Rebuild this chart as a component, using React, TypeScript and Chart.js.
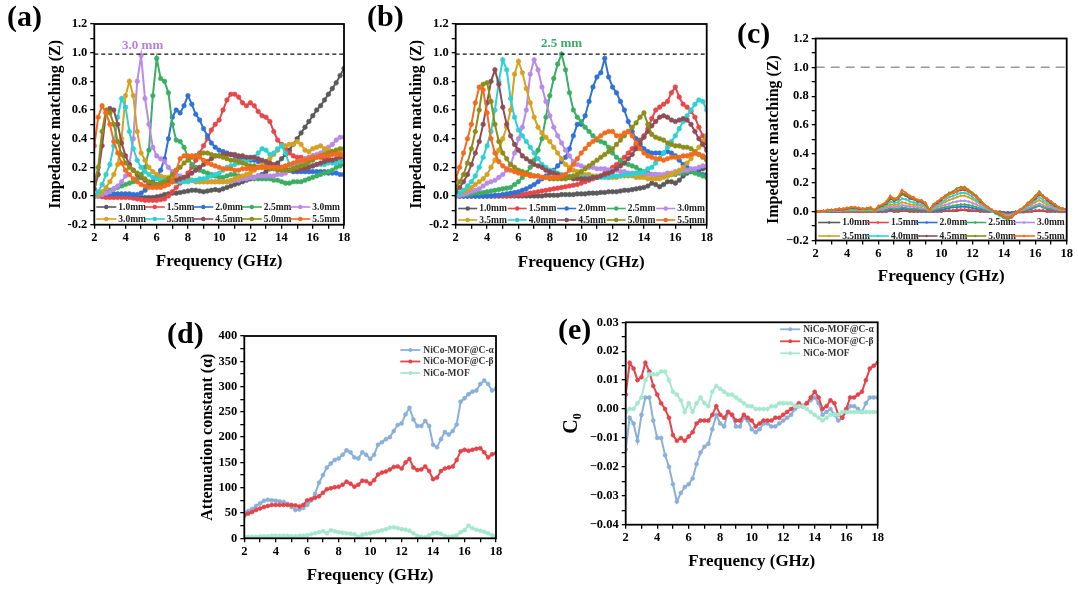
import React, { useEffect, useRef } from 'react';
import { Chart, registerables } from 'chart.js';

Chart.register(...registerables);

const FONT = '"Liberation Serif", "Times New Roman", Times, serif';
Chart.defaults.font.family = FONT;

// ---------- shared frequency grid (GHz) ----------
const FREQ = [
  2, 2.25, 2.5, 2.75, 3,
  3.25, 3.5, 3.75, 4,
  4.25, 4.5, 4.75, 5,
  5.25, 5.5, 5.75, 6,
  6.25, 6.5, 6.75, 7,
  7.25, 7.5, 7.75, 8,
  8.25, 8.5, 8.75, 9,
  9.25, 9.5, 9.75, 10,
  10.25, 10.5, 10.75, 11,
  11.25, 11.5, 11.75, 12,
  12.25, 12.5, 12.75, 13,
  13.25, 13.5, 13.75, 14,
  14.25, 14.5, 14.75, 15,
  15.25, 15.5, 15.75, 16,
  16.25, 16.5, 16.75, 17,
  17.25, 17.5, 17.75, 18,
];

// ---------- panel (a) ----------
const LEGEND_A = ['1.0mm', '1.5mm', '2.0mm', '2.5mm', '3.0mm', '3.0mm', '3.5mm', '4.5mm', '5.0mm', '5.5mm'];
const A_10 = [
  0, 0, 0, 0, 0,
  0, 0, 0, 0,
  -0.005, -0.01, -0.01, -0.01,
  -0.01, -0.01, -0.01, -0.005,
  0, 0.01, 0.015, 0.02,
  0.02, 0.025, 0.03, 0.035,
  0.04, 0.04, 0.035, 0.03,
  0.035, 0.04, 0.045, 0.04,
  0.05, 0.06, 0.07, 0.08,
  0.09, 0.1, 0.11, 0.12,
  0.13, 0.14, 0.15, 0.17,
  0.19, 0.21, 0.23, 0.26,
  0.29, 0.32, 0.36, 0.4,
  0.44, 0.48, 0.52, 0.56,
  0.6, 0.63, 0.67, 0.71,
  0.75, 0.79, 0.84, 0.89,
];
const A_15 = [
  0, 0, -0.005, -0.01, -0.01,
  -0.01, -0.01, -0.01, -0.01,
  -0.01, -0.015, -0.02, -0.025,
  -0.03, -0.03, -0.03, -0.03,
  -0.025, -0.02, 0.0, 0.03,
  0.06, 0.09, 0.12, 0.16,
  0.2, 0.25, 0.3, 0.35,
  0.4, 0.46, 0.5, 0.53,
  0.6, 0.67, 0.71, 0.71,
  0.69, 0.65, 0.63, 0.65,
  0.63, 0.59, 0.56, 0.55,
  0.52, 0.45, 0.39, 0.36,
  0.33, 0.3, 0.28, 0.27,
  0.27, 0.26, 0.27, 0.28,
  0.28, 0.27, 0.26, 0.26,
  0.25, 0.24, 0.23, 0.22,
];
const A_20 = [
  0, 0.005, 0.01, 0.015, 0.015,
  0.015, 0.015, 0.015, 0.015,
  0.015, 0.01, 0.01, 0.02,
  0.04, 0.07, 0.1, 0.13,
  0.18, 0.26, 0.4, 0.55,
  0.6, 0.58, 0.63, 0.7,
  0.64, 0.57, 0.53, 0.47,
  0.42, 0.37, 0.34, 0.32,
  0.31, 0.3, 0.29, 0.28,
  0.27, 0.26, 0.26, 0.25,
  0.25, 0.24, 0.24, 0.23,
  0.22, 0.21, 0.2, 0.19,
  0.18, 0.18, 0.17, 0.17,
  0.17, 0.17, 0.17, 0.17,
  0.17, 0.17, 0.17, 0.16,
  0.16, 0.16, 0.15, 0.15,
];
const A_25 = [
  0, 0.01, 0.02, 0.03, 0.04,
  0.05, 0.06, 0.07, 0.08,
  0.09, 0.1, 0.12, 0.15,
  0.2, 0.32, 0.7, 0.96,
  0.82, 0.8, 0.72, 0.5,
  0.39, 0.38, 0.34, 0.27,
  0.22, 0.2, 0.18, 0.17,
  0.16, 0.15, 0.14, 0.13,
  0.13, 0.14, 0.15, 0.15,
  0.14, 0.13, 0.13, 0.13,
  0.12, 0.12, 0.12, 0.12,
  0.12, 0.11, 0.11, 0.1,
  0.09, 0.09, 0.1, 0.1,
  0.1, 0.11, 0.12, 0.13,
  0.14, 0.15, 0.16, 0.17,
  0.18, 0.2, 0.21, 0.23,
];
const A_30 = [
  0, 0, 0.01, 0.02, 0.03,
  0.05, 0.07, 0.1, 0.14,
  0.22, 0.4, 0.8, 0.98,
  0.68, 0.5, 0.34, 0.28,
  0.26, 0.24, 0.2, 0.17,
  0.15, 0.14, 0.13, 0.12,
  0.11, 0.1, 0.1, 0.1,
  0.1, 0.1, 0.1, 0.1,
  0.1, 0.1, 0.1, 0.11,
  0.11, 0.12, 0.12, 0.13,
  0.13, 0.14, 0.14, 0.14,
  0.14, 0.14, 0.15, 0.15,
  0.16, 0.18, 0.2, 0.22,
  0.24, 0.26, 0.27, 0.28,
  0.29, 0.3, 0.32, 0.34,
  0.36, 0.39, 0.41, 0.41,
];
const A_30B = [
  0, 0.01, 0.03, 0.06, 0.1,
  0.15, 0.22, 0.4, 0.7,
  0.8, 0.7, 0.45, 0.3,
  0.25, 0.2, 0.17, 0.15,
  0.14, 0.13, 0.13, 0.12,
  0.12, 0.12, 0.11, 0.11,
  0.11, 0.1, 0.1, 0.1,
  0.1, 0.1, 0.1, 0.1,
  0.1, 0.1, 0.11, 0.12,
  0.13, 0.14, 0.15, 0.16,
  0.18, 0.2, 0.22, 0.24,
  0.26, 0.29, 0.32, 0.35,
  0.35, 0.36, 0.36, 0.38,
  0.36, 0.32, 0.31, 0.33,
  0.34, 0.35, 0.33, 0.32,
  0.31, 0.3, 0.3, 0.3,
];
const A_35 = [
  0, 0.03, 0.08, 0.15, 0.22,
  0.35, 0.55, 0.68, 0.62,
  0.45, 0.33, 0.25, 0.2,
  0.17, 0.15, 0.13, 0.12,
  0.11, 0.11, 0.1, 0.1,
  0.1, 0.1, 0.1, 0.1,
  0.11, 0.11, 0.12, 0.12,
  0.13, 0.14, 0.15, 0.16,
  0.18, 0.2, 0.21, 0.22,
  0.23, 0.24, 0.25, 0.26,
  0.27, 0.3, 0.33, 0.32,
  0.29, 0.3, 0.33, 0.35,
  0.3, 0.22, 0.2, 0.2,
  0.2, 0.2, 0.21, 0.21,
  0.22, 0.22, 0.22, 0.23,
  0.23, 0.23, 0.24, 0.24,
];
const A_45 = [
  0.05, 0.15, 0.35, 0.58, 0.61,
  0.6, 0.5, 0.37, 0.28,
  0.22, 0.18, 0.15, 0.13,
  0.11, 0.09, 0.08, 0.08,
  0.08, 0.09, 0.1, 0.1,
  0.11, 0.12, 0.13, 0.14,
  0.16, 0.18, 0.2, 0.22,
  0.24, 0.26, 0.28, 0.28,
  0.29, 0.29, 0.29, 0.29,
  0.28, 0.28, 0.27, 0.27,
  0.27, 0.26, 0.25, 0.24,
  0.23, 0.22, 0.21, 0.2,
  0.19, 0.18, 0.18, 0.18,
  0.19, 0.19, 0.2, 0.21,
  0.22, 0.23, 0.24, 0.25,
  0.25, 0.26, 0.27, 0.27,
];
const A_50 = [
  0.08, 0.2, 0.45, 0.6, 0.58,
  0.5, 0.38, 0.29, 0.23,
  0.2, 0.18, 0.16, 0.14,
  0.12, 0.1, 0.09, 0.08,
  0.09, 0.1, 0.12, 0.15,
  0.18, 0.2, 0.23, 0.25,
  0.27, 0.28, 0.29, 0.3,
  0.3, 0.29, 0.28, 0.28,
  0.27, 0.26, 0.25, 0.25,
  0.24, 0.23, 0.22, 0.21,
  0.21, 0.2, 0.2, 0.2,
  0.19, 0.19, 0.18, 0.18,
  0.18, 0.18, 0.19, 0.2,
  0.21, 0.22, 0.24, 0.25,
  0.27, 0.28, 0.29, 0.3,
  0.31, 0.32, 0.33, 0.33,
];
const A_55 = [
  0.35, 0.55, 0.63, 0.58, 0.5,
  0.38, 0.3, 0.23, 0.18,
  0.15, 0.12, 0.1, 0.08,
  0.07, 0.06, 0.06, 0.06,
  0.06, 0.07, 0.08, 0.1,
  0.18, 0.26, 0.28, 0.28,
  0.28, 0.28, 0.27, 0.25,
  0.23, 0.22, 0.21, 0.2,
  0.19, 0.19, 0.19, 0.18,
  0.18, 0.19, 0.19, 0.19,
  0.19, 0.2, 0.2, 0.2,
  0.2, 0.2, 0.2, 0.2,
  0.21, 0.22, 0.23, 0.24,
  0.25, 0.25, 0.26, 0.27,
  0.27, 0.28, 0.28, 0.28,
  0.29, 0.29, 0.29, 0.28,
];

// ---------- panel (b) ----------
const LEGEND_BC = ['1.0mm', '1.5mm', '2.0mm', '2.5mm', '3.0mm', '3.5mm', '4.0mm', '4.5mm', '5.0mm', '5.5mm'];
const B_10 = [
  0, 0, 0, 0, 0,
  0, 0, 0, 0,
  0, 0, 0, 0,
  0, 0, 0, 0,
  0, 0, 0, 0,
  0, 0, 0.005, 0.005,
  0.005, 0.005, 0.01, 0.01,
  0.01, 0.01, 0.015, 0.015,
  0.015, 0.02, 0.02, 0.02,
  0.025, 0.025, 0.03, 0.03,
  0.03, 0.035, 0.04, 0.04,
  0.045, 0.05, 0.055, 0.06,
  0.07, 0.09, 0.08, 0.065,
  0.08, 0.1, 0.1, 0.09,
  0.11, 0.14, 0.16, 0.17,
  0.18, 0.18, 0.19, 0.2,
];
const B_15 = [
  0, 0, 0, 0, 0,
  0, 0, 0, 0,
  0, 0, 0, 0,
  0, 0.005, 0.005, 0.01,
  0.01, 0.015, 0.02, 0.025,
  0.03, 0.035, 0.04, 0.045,
  0.05, 0.055, 0.06, 0.065,
  0.07, 0.075, 0.08, 0.09,
  0.1, 0.11, 0.12, 0.13,
  0.14, 0.16, 0.18, 0.2,
  0.22, 0.24, 0.27, 0.3,
  0.33, 0.36, 0.39, 0.42,
  0.47, 0.54, 0.6, 0.62,
  0.64, 0.66, 0.72, 0.76,
  0.69, 0.64, 0.62, 0.59,
  0.55, 0.48, 0.42, 0.37,
];
const B_20 = [
  0, 0, 0, 0, 0,
  0, 0, 0, 0,
  0, 0.005, 0.005, 0.01,
  0.015, 0.02, 0.025, 0.03,
  0.04, 0.05, 0.065, 0.08,
  0.1, 0.12, 0.14, 0.16,
  0.18, 0.21, 0.24, 0.27,
  0.33, 0.42, 0.5, 0.5,
  0.56, 0.66, 0.76, 0.83,
  0.86, 0.96, 0.83, 0.76,
  0.72, 0.66, 0.6, 0.52,
  0.45, 0.4, 0.36, 0.33,
  0.31, 0.3, 0.3, 0.3,
  0.3, 0.31, 0.3, 0.28,
  0.25, 0.22, 0.2, 0.18,
  0.17, 0.16, 0.15, 0.15,
];
const B_25 = [
  0, 0.005, 0.01, 0.01, 0.015,
  0.02, 0.02, 0.025, 0.03,
  0.035, 0.04, 0.045, 0.05,
  0.055, 0.06, 0.08, 0.1,
  0.13, 0.16, 0.2, 0.25,
  0.32, 0.4, 0.55, 0.7,
  0.82, 0.92, 0.99, 0.88,
  0.72, 0.6, 0.55, 0.52,
  0.48, 0.45, 0.42, 0.39,
  0.38, 0.37, 0.34, 0.3,
  0.27, 0.25, 0.23, 0.22,
  0.21, 0.2, 0.18, 0.17,
  0.16, 0.15, 0.15, 0.14,
  0.14, 0.14, 0.15, 0.15,
  0.16, 0.16, 0.17, 0.17,
  0.16, 0.15, 0.14, 0.13,
];
const B_30 = [
  0, 0.005, 0.01, 0.02, 0.03,
  0.04, 0.05, 0.07, 0.09,
  0.1, 0.11, 0.13, 0.15,
  0.18, 0.22, 0.3, 0.4,
  0.48, 0.6, 0.85, 0.95,
  0.88, 0.76, 0.66, 0.56,
  0.48, 0.42, 0.37, 0.32,
  0.28, 0.24, 0.22, 0.21,
  0.2, 0.2, 0.2, 0.19,
  0.19, 0.19, 0.18, 0.18,
  0.18, 0.17, 0.17, 0.16,
  0.16, 0.16, 0.15, 0.15,
  0.15, 0.15, 0.15, 0.15,
  0.15, 0.16, 0.16, 0.17,
  0.17, 0.18, 0.18, 0.19,
  0.19, 0.2, 0.21, 0.21,
];
const B_35 = [
  0.01, 0.02, 0.03, 0.04, 0.06,
  0.08, 0.1, 0.12, 0.15,
  0.2, 0.25, 0.32, 0.4,
  0.48, 0.6, 0.85, 0.94,
  0.86, 0.75, 0.65, 0.55,
  0.48, 0.44, 0.41, 0.38,
  0.34, 0.3, 0.26, 0.22,
  0.2, 0.18, 0.17, 0.16,
  0.15, 0.15, 0.14, 0.14,
  0.14, 0.14, 0.13, 0.13,
  0.13, 0.14, 0.14, 0.14,
  0.14, 0.13, 0.13, 0.13,
  0.12, 0.12, 0.12, 0.12,
  0.13, 0.14, 0.15, 0.16,
  0.18, 0.2, 0.23, 0.26,
  0.3, 0.34, 0.38, 0.42,
];
const B_40 = [
  0.01, 0.02, 0.04, 0.07, 0.1,
  0.14, 0.2, 0.27, 0.35,
  0.45, 0.6, 0.8, 0.95,
  0.88, 0.68, 0.55, 0.46,
  0.42, 0.38, 0.34, 0.3,
  0.26, 0.22, 0.2, 0.18,
  0.17, 0.16, 0.15, 0.15,
  0.14, 0.14, 0.13, 0.13,
  0.13, 0.13, 0.13, 0.13,
  0.13, 0.13, 0.13, 0.14,
  0.14, 0.14, 0.15, 0.15,
  0.15, 0.16, 0.16, 0.17,
  0.19, 0.2, 0.23, 0.26,
  0.3, 0.34, 0.38, 0.42,
  0.47, 0.52, 0.56, 0.6,
  0.64, 0.67, 0.66, 0.6,
];
const B_45 = [
  0.03, 0.06, 0.1, 0.15, 0.22,
  0.3, 0.38, 0.5, 0.65,
  0.8, 0.88, 0.78, 0.62,
  0.5, 0.42, 0.36, 0.32,
  0.28, 0.26, 0.24, 0.22,
  0.21, 0.2, 0.18, 0.17,
  0.16, 0.15, 0.14, 0.13,
  0.13, 0.12, 0.12, 0.12,
  0.12, 0.12, 0.13, 0.13,
  0.14, 0.15, 0.16, 0.17,
  0.19, 0.21, 0.23, 0.26,
  0.29, 0.33, 0.37, 0.41,
  0.45, 0.49, 0.52, 0.55,
  0.56, 0.55, 0.53, 0.52,
  0.53, 0.54, 0.53, 0.5,
  0.45, 0.4, 0.36, 0.32,
];
const B_50 = [
  0.06, 0.1, 0.15, 0.23, 0.33,
  0.45, 0.6, 0.78, 0.79,
  0.66, 0.5, 0.38, 0.3,
  0.26, 0.22, 0.2, 0.18,
  0.17, 0.16, 0.15, 0.14,
  0.14, 0.13, 0.13, 0.12,
  0.12, 0.12, 0.12, 0.12,
  0.13, 0.14, 0.15, 0.17,
  0.19, 0.21, 0.23, 0.25,
  0.27, 0.29, 0.31, 0.33,
  0.36, 0.39, 0.42, 0.45,
  0.48, 0.51, 0.55, 0.58,
  0.5, 0.43, 0.41, 0.4,
  0.39, 0.37, 0.36, 0.35,
  0.35, 0.34, 0.34, 0.33,
  0.31, 0.29, 0.27, 0.25,
];
const B_55 = [
  0.12, 0.2, 0.3, 0.4, 0.5,
  0.65, 0.76, 0.74, 0.58,
  0.4, 0.3, 0.24, 0.21,
  0.19, 0.18, 0.17, 0.16,
  0.15, 0.15, 0.14, 0.14,
  0.14, 0.13, 0.13, 0.13,
  0.13, 0.13, 0.14, 0.15,
  0.18, 0.22, 0.26, 0.3,
  0.33, 0.36, 0.38, 0.4,
  0.42, 0.44, 0.45, 0.45,
  0.42, 0.42, 0.44, 0.45,
  0.42, 0.37, 0.33, 0.3,
  0.28, 0.27, 0.26, 0.26,
  0.25, 0.26, 0.27, 0.27,
  0.27, 0.28, 0.28, 0.29,
  0.3, 0.29, 0.28, 0.27,
];

// ---------- panel (c) ----------
const C_10 = [
  0, 0, 0, 0, 0,
  0, 0, 0, 0,
  0, 0, 0, 0,
  0, 0, 0, 0,
  0, 0, 0.005, 0,
  0, 0.005, 0.005, 0,
  0, 0, 0, 0,
  0, 0, 0, 0,
  0.005, 0.005, 0.005, 0.005,
  0.01, 0.01, 0.005, 0.005,
  0.005, 0, 0, 0,
  0, 0, 0, -0.005,
  -0.005, -0.005, 0, 0,
  0, 0, 0, 0.005,
  0.005, 0.005, 0, 0,
  0, 0, 0, 0,
];
const C_15 = [
  0, 0, 0, 0, 0,
  0, 0, 0, 0,
  0, 0, 0, 0,
  0, 0, 0, 0,
  0, 0.005, 0.005, 0.005,
  0.005, 0.01, 0.01, 0.005,
  0.005, 0.005, 0.005, 0.005,
  0, 0, 0.005, 0.005,
  0.01, 0.01, 0.01, 0.015,
  0.015, 0.015, 0.015, 0.01,
  0.01, 0.005, 0.005, 0,
  0, -0.005, -0.005, -0.01,
  -0.015, -0.015, -0.01, -0.005,
  -0.005, 0, 0.005, 0.01,
  0.01, 0.01, 0.005, 0.005,
  0.005, 0, 0, 0,
];
const C_20 = [
  0, 0, 0, 0, 0,
  0, 0.005, 0.005, 0.005,
  0.005, 0.005, 0.005, 0.005,
  0.005, 0.005, 0, 0.005,
  0.005, 0.01, 0.015, 0.015,
  0.015, 0.02, 0.02, 0.015,
  0.015, 0.015, 0.01, 0.01,
  0, 0.005, 0.01, 0.015,
  0.02, 0.025, 0.03, 0.03,
  0.035, 0.035, 0.03, 0.025,
  0.02, 0.015, 0.01, 0.005,
  0, -0.005, -0.01, -0.015,
  -0.02, -0.015, -0.01, 0,
  0.005, 0.01, 0.02, 0.03,
  0.04, 0.03, 0.02, 0.015,
  0.01, 0.01, 0.005, 0.005,
];
const C_25 = [
  0, 0, 0, 0, 0.005,
  0.005, 0.005, 0.005, 0.005,
  0.005, 0.005, 0.005, 0.005,
  0.005, 0.005, 0, 0.01,
  0.01, 0.015, 0.025, 0.02,
  0.02, 0.03, 0.025, 0.02,
  0.02, 0.02, 0.015, 0.015,
  0, 0.01, 0.02, 0.025,
  0.03, 0.035, 0.04, 0.045,
  0.05, 0.05, 0.045, 0.04,
  0.03, 0.025, 0.015, 0.01,
  0, -0.005, -0.01, -0.015,
  -0.02, -0.015, -0.005, 0,
  0.01, 0.015, 0.025, 0.035,
  0.04, 0.03, 0.025, 0.02,
  0.015, 0.01, 0.01, 0.01,
];
const C_30 = [
  0, 0, 0, 0.005, 0.005,
  0.005, 0.005, 0.01, 0.01,
  0.01, 0.01, 0.01, 0.01,
  0.01, 0.01, 0.005, 0.015,
  0.015, 0.025, 0.035, 0.03,
  0.035, 0.045, 0.04, 0.035,
  0.035, 0.03, 0.025, 0.02,
  0.005, 0.02, 0.03, 0.04,
  0.045, 0.055, 0.065, 0.07,
  0.075, 0.075, 0.07, 0.06,
  0.05, 0.035, 0.025, 0.015,
  0, -0.01, -0.015, -0.02,
  -0.025, -0.02, -0.005, 0.005,
  0.015, 0.025, 0.035, 0.045,
  0.055, 0.045, 0.035, 0.03,
  0.02, 0.015, 0.01, 0.01,
];
const C_35 = [
  0, 0, 0.005, 0.005, 0.005,
  0.01, 0.01, 0.01, 0.015,
  0.015, 0.015, 0.015, 0.01,
  0.01, 0.015, 0.005, 0.02,
  0.025, 0.035, 0.05, 0.045,
  0.05, 0.065, 0.06, 0.05,
  0.05, 0.045, 0.04, 0.03,
  0.005, 0.03, 0.04, 0.055,
  0.065, 0.08, 0.09, 0.1,
  0.11, 0.11, 0.1, 0.085,
  0.07, 0.05, 0.035, 0.02,
  0, -0.01, -0.02, -0.03,
  -0.035, -0.03, -0.01, 0.005,
  0.02, 0.035, 0.05, 0.065,
  0.08, 0.065, 0.05, 0.04,
  0.03, 0.02, 0.015, 0.015,
];
const C_40 = [
  0, 0, 0.005, 0.005, 0.01,
  0.01, 0.015, 0.015, 0.02,
  0.02, 0.02, 0.02, 0.015,
  0.015, 0.02, 0.01, 0.025,
  0.03, 0.045, 0.07, 0.06,
  0.065, 0.09, 0.085, 0.07,
  0.065, 0.055, 0.05, 0.04,
  0.01, 0.035, 0.05, 0.065,
  0.08, 0.1, 0.11, 0.12,
  0.13, 0.13, 0.12, 0.1,
  0.08, 0.06, 0.04, 0.02,
  0, -0.015, -0.03, -0.045,
  -0.055, -0.04, -0.015, 0.01,
  0.025, 0.04, 0.06, 0.08,
  0.1, 0.08, 0.065, 0.05,
  0.035, 0.025, 0.02, 0.02,
];
const C_45 = [
  0, 0, 0.005, 0.01, 0.01,
  0.01, 0.015, 0.015, 0.02,
  0.025, 0.025, 0.02, 0.02,
  0.02, 0.025, 0.01, 0.03,
  0.04, 0.055, 0.09, 0.075,
  0.085, 0.12, 0.11, 0.09,
  0.085, 0.07, 0.065, 0.05,
  0.01, 0.045, 0.06, 0.08,
  0.1, 0.12, 0.13, 0.14,
  0.15, 0.15, 0.14, 0.12,
  0.1, 0.07, 0.05, 0.03,
  0.01, -0.01, -0.02, -0.035,
  -0.04, -0.035, -0.01, 0.01,
  0.03, 0.05, 0.07, 0.09,
  0.12, 0.1, 0.08, 0.06,
  0.04, 0.03, 0.02, 0.02,
];
const C_50 = [
  0, 0, 0.005, 0.01, 0.01,
  0.015, 0.02, 0.02, 0.025,
  0.03, 0.03, 0.025, 0.02,
  0.02, 0.025, 0.01, 0.035,
  0.045, 0.06, 0.1, 0.08,
  0.09, 0.13, 0.12, 0.1,
  0.09, 0.08, 0.07, 0.06,
  0.01, 0.05, 0.07, 0.09,
  0.11, 0.13, 0.14, 0.16,
  0.17, 0.17, 0.15, 0.13,
  0.11, 0.08, 0.05, 0.03,
  0.01, -0.01, -0.02, -0.04,
  -0.05, -0.04, -0.01, 0.01,
  0.03, 0.06, 0.08, 0.11,
  0.14, 0.11, 0.09, 0.07,
  0.05, 0.03, 0.02, 0.02,
];
const C_55 = [
  0, 0, 0.005, 0.01, 0.01,
  0.015, 0.02, 0.02, 0.025,
  0.03, 0.03, 0.025, 0.02,
  0.025, 0.03, 0.01, 0.04,
  0.05, 0.07, 0.11, 0.09,
  0.1, 0.15, 0.13, 0.11,
  0.1, 0.08, 0.08, 0.06,
  0.01, 0.05, 0.07, 0.09,
  0.1, 0.12, 0.13, 0.14,
  0.16, 0.16, 0.14, 0.12,
  0.1, 0.08, 0.05, 0.03,
  0.01, 0, -0.01, -0.03,
  -0.04, -0.03, -0.01, 0.01,
  0.03, 0.05, 0.07, 0.1,
  0.13, 0.1, 0.09, 0.07,
  0.05, 0.03, 0.02, 0.02,
];

// ---------- panel (d) ----------
const LEGEND_DE = ['NiCo-MOF@C-α', 'NiCo-MOF@C-β', 'NiCo-MOF'];
const D_ALPHA = [
  50, 54, 58, 64, 69,
  74, 76, 75, 74,
  73, 72, 68, 62,
  56, 57, 60, 66,
  75, 88, 110, 125,
  140, 148, 155, 158,
  165, 174, 170, 160,
  158, 170, 165, 157,
  165, 185, 190, 196,
  200, 212, 224, 227,
  245, 258, 235, 222,
  222, 232, 222, 185,
  180, 196, 210, 205,
  212, 225, 270, 277,
  285, 290, 292, 305,
  312, 305, 292, 296,
];
const D_BETA = [
  45, 49, 52, 56, 59,
  62, 64, 66, 66,
  66, 66, 66, 66,
  65, 63, 66, 75,
  77, 80, 83, 90,
  97, 99, 101, 102,
  106, 112, 108, 102,
  106, 114, 113, 108,
  115, 126, 130, 132,
  136, 141, 142, 138,
  150, 157, 140, 135,
  136, 142, 133, 117,
  120, 133, 138, 140,
  142, 155, 172, 175,
  173, 175, 177, 178,
  170, 160, 166, 168,
];
const D_MOF = [
  3, 3, 3, 3, 4,
  4, 4, 5, 5,
  5, 5, 5, 4,
  4, 5, 5, 6,
  8, 10, 12, 14,
  10, 16, 14, 12,
  11, 10, 9, 8,
  3, 7, 9, 10,
  12, 14, 16, 18,
  21, 22, 20, 18,
  17, 15, 10, 5,
  3, 2, 6, 10,
  11, 9, 5, 3,
  4, 6, 12, 16,
  25, 20, 17, 15,
  13, 10, 6, 4,
];

// ---------- panel (e) ----------
const E_ALPHA = [
  -0.014, -0.003, -0.005, -0.011, -0.002,
  0.004, 0.004, -0.004, -0.01,
  -0.01, -0.016, -0.02, -0.026,
  -0.032, -0.029, -0.027, -0.026,
  -0.024, -0.019, -0.015, -0.013,
  -0.012, -0.007, -0.002, -0.005,
  -0.006, -0.001, -0.002, -0.006,
  -0.006, -0.003, -0.004, -0.007,
  -0.008, -0.007, -0.005, -0.005,
  -0.006, -0.006, -0.005, -0.004,
  -0.003, -0.002, 0, 0.001,
  0.001, 0.002, 0.003, 0.004,
  0.002, -0.002, -0.001, 0,
  -0.002, -0.004, -0.003, -0.001,
  0.001, 0.001, 0, -0.001,
  0.002, 0.004, 0.004, 0.004,
];
const E_BETA = [
  0.005, 0.016, 0.014, 0.01, 0.011,
  0.016, 0.013, 0.008, 0.005,
  0.002, 0, -0.003, -0.009,
  -0.011, -0.01, -0.011, -0.0095,
  -0.008, -0.005, -0.004, -0.004,
  -0.004, -0.002, 0.001, -0.002,
  -0.003, -0.001, -0.002, -0.004,
  -0.004, -0.002, -0.003, -0.004,
  -0.006, -0.005, -0.004, -0.004,
  -0.004, -0.003, -0.003, -0.002,
  -0.001, 0, 0.001, 0.002,
  0.001, 0.002, 0.004, 0.006,
  0.004, 0, 0.001, 0.003,
  0.002, -0.002, -0.003, 0,
  0.004, 0.004, 0.005, 0.006,
  0.01, 0.014, 0.015, 0.016,
];
const E_MOF = [
  -0.001, 0, 0, 0.002, 0.004,
  0.01, 0.012, 0.012, 0.012,
  0.013, 0.013, 0.01, 0.006,
  0.005, 0.003, -0.001, 0.002,
  -0.001, 0.002, 0.004, 0.002,
  0.001, 0.006, 0.008, 0.007,
  0.006, 0.005, 0.005, 0.004,
  0.003, 0.002, 0.001, 0.001,
  0, 0, 0, 0,
  0.001, 0.001, 0.002, 0.002,
  0.002, 0.002, 0.001, 0.001,
  0.001, 0, -0.001, -0.002,
  -0.003, -0.004, -0.003, -0.002,
  -0.002, -0.002, -0.001, -0.001,
  -0.001, -0.001, -0.001, -0.001,
  -0.001, -0.001, -0.001, -0.001,
];

const REF_AB = 0.99;
const REF_C = 1.0;

// ---------- styles ----------
const COLORS10 = ['#5a5a5a', '#e8474a', '#2f72d6', '#3cae64', '#b98ae8', '#d5a11e', '#2fd0d2', '#8e4e55', '#8c8d1b', '#f36b1f'];
const COLORS3 = ['#8ab0da', '#e4434a', '#a6e8cf'];

const toXY = (vals: number[]) => FREQ.map((f, i) => ({ x: f, y: vals[i] }));

function beadSets(series: number[][], labels: string[], colors: string[], radius: number, width: number, style: string) {
  return series.map((vals, i) => ({
    label: labels[i],
    data: toXY(vals),
    borderColor: colors[i],
    backgroundColor: colors[i],
    pointBackgroundColor: colors[i],
    pointBorderColor: colors[i],
    pointRadius: radius,
    pointBorderWidth: 0.6,
    pointStyle: style,
    borderWidth: width,
    tension: 0,
    order: 50 - i,
  }));
}

function refLine(y: number, color: string, dash: number[], width: number) {
  return {
    label: 'ref',
    data: [{ x: 2, y }, { x: 18, y }],
    borderColor: color,
    borderDash: dash,
    borderWidth: width,
    pointRadius: 0,
    order: 0,
  };
}

function drawFrame(chart: any) {
  const { ctx, chartArea: ca } = chart;
  ctx.save();
  ctx.strokeStyle = '#000';
  ctx.lineWidth = 1.8;
  ctx.strokeRect(ca.left, ca.top, ca.right - ca.left, ca.bottom - ca.top);
  ctx.restore();
}

function drawGridLegend(chart: any, labels: string[], colors: string[], o: any) {
  const { ctx, chartArea: ca } = chart;
  ctx.save();
  ctx.font = `bold ${o.font}px ${FONT}`;
  ctx.textBaseline = 'middle';
  labels.forEach((lab, i) => {
    const col = i % 5;
    const row = Math.floor(i / 5);
    const x = ca.left + o.dx + col * o.colW;
    const y = ca.top + o.dy + row * o.rowH;
    ctx.strokeStyle = colors[i];
    ctx.lineWidth = 1.6;
    ctx.beginPath();
    ctx.moveTo(x, y);
    ctx.lineTo(x + o.lineLen, y);
    ctx.stroke();
    ctx.fillStyle = colors[i];
    ctx.beginPath();
    ctx.arc(x + o.lineLen / 2, y, o.marker, 0, Math.PI * 2);
    ctx.fill();
    ctx.fillStyle = '#222';
    ctx.fillText(lab, x + o.lineLen + 2, y + 0.5);
  });
  ctx.restore();
}

function drawListLegend(chart: any, labels: string[], colors: string[], o: any) {
  const { ctx, chartArea: ca } = chart;
  ctx.save();
  ctx.font = `bold ${o.font}px ${FONT}`;
  ctx.textBaseline = 'middle';
  labels.forEach((lab, i) => {
    const x = ca.left + o.dx;
    const y = ca.top + o.dy + i * o.rowH;
    ctx.strokeStyle = colors[i];
    ctx.lineWidth = 1.8;
    ctx.beginPath();
    ctx.moveTo(x, y);
    ctx.lineTo(x + o.lineLen, y);
    ctx.stroke();
    ctx.fillStyle = colors[i];
    ctx.beginPath();
    ctx.arc(x + o.lineLen / 2, y, 2, 0, Math.PI * 2);
    ctx.fill();
    ctx.fillStyle = '#333';
    ctx.fillText(lab, x + o.lineLen + 3, y + 0.5);
  });
  ctx.restore();
}

function drawNote(chart: any, text: string, xv: number, yv: number, color: string) {
  const { ctx, scales } = chart;
  ctx.save();
  ctx.font = `bold 13px ${FONT}`;
  ctx.fillStyle = color;
  ctx.textAlign = 'center';
  ctx.textBaseline = 'middle';
  ctx.fillText(text, scales.x.getPixelForValue(xv), scales.y.getPixelForValue(yv));
  ctx.restore();
}

const minus = (s: string) => s.replace('-', '\u2212');

type PanelCfg = {
  id: string;
  L: number; T: number; R: number; B: number;
  yTitle: string; yTitleX: number; yTitleSize: number;
  xTitleY: number;
  yMin: number; yMax: number; yStep: number;
  yLabel: (v: number) => string;
  datasets: any[];
  overlay: (chart: any) => void;
};

function ChartPanel({ cfg }: { cfg: PanelCfg }) {
  const ref = useRef<HTMLCanvasElement>(null);
  const yLH = cfg.yTitleSize * 1.2;
  const left = Math.round(cfg.yTitleX - yLH / 2 - 6);
  const top = Math.round(cfg.T - 12);
  const width = Math.round(cfg.R + 11 - left);
  const xLH = 17 * 1.2;
  const height = Math.round(cfg.xTitleY + xLH / 2 + 2 - top);
  const yW = cfg.L - left;
  const xH = top + height - cfg.B;
  const padRight = left + width - cfg.R;
  const padTop = cfg.T - top;

  useEffect(() => {
    const chart = new Chart(ref.current as HTMLCanvasElement, {
      type: 'line',
      data: { datasets: cfg.datasets },
      options: {
        responsive: false,
        animation: false,
        devicePixelRatio: 1,
        layout: { padding: { top: padTop, right: padRight, left: 0, bottom: 0 } },
        plugins: { legend: { display: false }, tooltip: { enabled: false } },
        scales: {
          x: {
            type: 'linear',
            min: 2,
            max: 18,
            afterFit: (s: any) => { s.height = xH; },
            border: { display: false },
            grid: { display: true, drawOnChartArea: false, drawTicks: true, tickLength: 4, color: '#000', lineWidth: 1.3 },
            ticks: {
              stepSize: 1,
              autoSkip: false,
              maxRotation: 0,
              padding: 2,
              color: '#000',
              font: { family: FONT, size: 12.5, weight: 'bold' },
              callback: (v: any) => (Number(v) % 2 === 0 ? String(v) : ''),
            },
            title: {
              display: true,
              text: 'Frequency (GHz)',
              color: '#000',
              font: { family: FONT, size: 17, weight: 'bold' },
              padding: { top: 0, bottom: 2 },
            },
          },
          y: {
            type: 'linear',
            min: cfg.yMin,
            max: cfg.yMax,
            afterFit: (s: any) => { s.width = yW; },
            border: { display: false },
            grid: { display: true, drawOnChartArea: false, drawTicks: true, tickLength: 4, color: '#000', lineWidth: 1.3 },
            ticks: {
              stepSize: cfg.yStep,
              autoSkip: false,
              padding: 3,
              color: '#000',
              font: { family: FONT, size: 12.5, weight: 'bold' },
              callback: (v: any) => cfg.yLabel(Number(v)),
            },
            title: {
              display: true,
              text: cfg.yTitle,
              color: '#000',
              font: { family: FONT, size: cfg.yTitleSize, weight: 'bold' },
              padding: { top: 6, bottom: 0 },
            },
          },
        },
      } as any,
      plugins: [{ id: 'overlay-' + cfg.id, afterDatasetsDraw: (c: any) => cfg.overlay(c) }],
    });
    return () => chart.destroy();
  }, []);

  return (
    <canvas
      ref={ref}
      width={width}
      height={height}
      style={{ position: 'absolute', left, top, width, height }}
    />
  );
}

const labelZ = (v: number) => {
  const k = Math.round(v * 10);
  return k % 2 === 0 ? (k / 10).toFixed(1) : '';
};

const PANELS: PanelCfg[] = [
  {
    id: 'a', L: 94.3, T: 24, R: 344, B: 224.7,
    yTitle: 'Impedance matching (Z)', yTitleX: 56, yTitleSize: 16, xTitleY: 262,
    yMin: -0.2, yMax: 1.2, yStep: 0.1, yLabel: labelZ,
    datasets: [
      refLine(REF_AB, '#111', [4, 3], 1.3),
      ...beadSets([A_10, A_15, A_20, A_25, A_30, A_30B, A_35, A_45, A_50, A_55], LEGEND_A, COLORS10, 2.3, 2, 'circle'),
    ],
    overlay: (c) => {
      drawFrame(c);
      drawGridLegend(c, LEGEND_A, COLORS10, { dx: 2, dy: 183, colW: 48.5, rowH: 12, lineLen: 20, font: 9.5, marker: 2.2 });
      drawNote(c, '3.0 mm', 5.1, 1.05, '#b57fe6');
    },
  },
  {
    id: 'b', L: 455.7, T: 24, R: 706.7, B: 224.7,
    yTitle: 'Impedance matching (Z)', yTitleX: 417, yTitleSize: 16, xTitleY: 263,
    yMin: -0.2, yMax: 1.2, yStep: 0.1, yLabel: labelZ,
    datasets: [
      refLine(REF_AB, '#111', [4, 3], 1.3),
      ...beadSets([B_10, B_15, B_20, B_25, B_30, B_35, B_40, B_45, B_50, B_55], LEGEND_BC, COLORS10, 2.3, 2, 'circle'),
    ],
    overlay: (c) => {
      drawFrame(c);
      drawGridLegend(c, LEGEND_BC, COLORS10, { dx: 2.5, dy: 184.5, colW: 49.5, rowH: 11.5, lineLen: 19, font: 9.5, marker: 2.2 });
      drawNote(c, '2.5 mm', 8.75, 1.06, '#3caa6a');
    },
  },
  {
    id: 'c', L: 815.7, T: 38.5, R: 1066.7, B: 240.5,
    yTitle: 'Impedance matching (Z)', yTitleX: 773.3, yTitleSize: 16, xTitleY: 276.7,
    yMin: -0.2, yMax: 1.2, yStep: 0.1, yLabel: (v) => minus(labelZ(v)),
    datasets: [
      refLine(REF_C, '#9a9a9a', [9, 6], 1.5),
      ...beadSets([C_10, C_15, C_20, C_25, C_30, C_35, C_40, C_45, C_50, C_55], LEGEND_BC, COLORS10, 1.4, 1.6, 'triangle'),
    ],
    overlay: (c) => {
      drawFrame(c);
      drawGridLegend(c, LEGEND_BC, COLORS10, { dx: 2.5, dy: 184, colW: 48.7, rowH: 13.5, lineLen: 22, font: 9.5, marker: 1.3 });
    },
  },
  {
    id: 'd', L: 244.3, T: 336, R: 496, B: 538.3,
    yTitle: 'Attenuation constant (α)', yTitleX: 207.5, yTitleSize: 16, xTitleY: 576,
    yMin: 0, yMax: 400, yStep: 25, yLabel: (v) => (Math.round(v) % 50 === 0 ? String(Math.round(v)) : ''),
    datasets: beadSets([D_ALPHA, D_BETA, D_MOF], LEGEND_DE, COLORS3, 2, 2, 'circle'),
    overlay: (c) => {
      drawFrame(c);
      drawListLegend(c, LEGEND_DE, COLORS3, { dx: 156, dy: 14, rowH: 11.5, lineLen: 20, font: 9.5 });
    },
  },
  {
    id: 'e', L: 625.7, T: 322.3, R: 877.7, B: 524.7,
    yTitle: 'C\u2080', yTitleX: 572.3, yTitleSize: 20, xTitleY: 561.7,
    yMin: -0.04, yMax: 0.03, yStep: 0.005,
    yLabel: (v) => {
      const k = Math.round(v * 1000);
      return k % 10 === 0 ? minus((k / 1000).toFixed(2)) : '';
    },
    datasets: beadSets([E_ALPHA, E_BETA, E_MOF], LEGEND_DE, COLORS3, 2, 2, 'circle'),
    overlay: (c) => {
      drawFrame(c);
      drawListLegend(c, LEGEND_DE, COLORS3, { dx: 154.5, dy: 7, rowH: 12, lineLen: 20, font: 9.5 });
    },
  },
];

const PANEL_LABELS = [
  { text: '(a)', left: 7, top: 1 },
  { text: '(b)', left: 367, top: 1 },
  { text: '(c)', left: 737, top: 18 },
  { text: '(d)', left: 167, top: 318 },
  { text: '(e)', left: 558, top: 314 },
];

export default function App() {
  return (
    <div
      style={{
        position: 'fixed', left: 0, top: 0, width: 1078, height: 590,
        background: '#fff', overflow: 'hidden',
      }}
    >
      {PANELS.map((p) => (
        <ChartPanel key={p.id} cfg={p} />
      ))}
      {PANEL_LABELS.map((l) => (
        <div
          key={l.text}
          style={{
            position: 'absolute', left: l.left, top: l.top,
            fontFamily: FONT, fontWeight: 'bold', fontSize: 30, lineHeight: '30px', color: '#000',
          }}
        >
          {l.text}
        </div>
      ))}
    </div>
  );
}
